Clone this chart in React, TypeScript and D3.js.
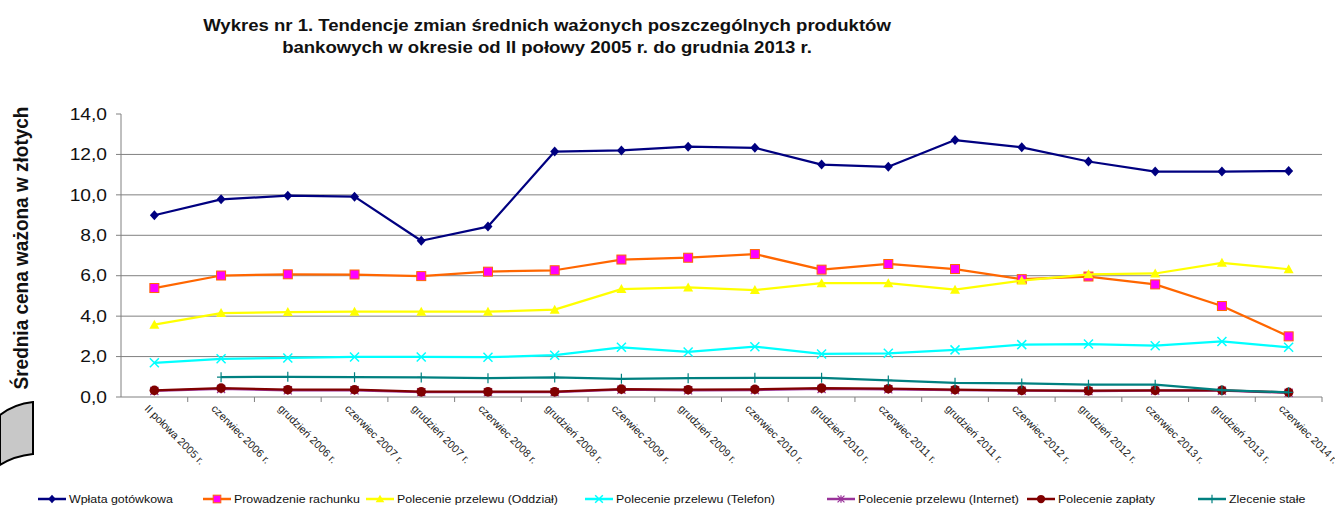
import React from "react";
import * as d3 from "d3";

const categories = [
  "II połowa 2005 r.", "czerwiec 2006 r.", "grudzień 2006 r.", "czerwiec 2007 r.",
  "grudzień 2007 r.", "czerwiec 2008 r.", "grudzień 2008 r.", "czerwiec 2009 r.",
  "grudzień 2009 r.", "czerwiec 2010 r.", "grudzień 2010 r.", "czerwiec 2011 r.",
  "grudzień 2011 r.", "czerwiec 2012 r.", "grudzień 2012 r.", "czerwiec 2013 r.",
  "grudzień 2013 r.", "czerwiec 2014 r.",
];

const wplata = [8.99, 9.78, 9.96, 9.91, 7.73, 8.43, 12.14, 12.2, 12.38, 12.33, 11.5, 11.39, 12.71, 12.35, 11.65, 11.15, 11.15, 11.18];
const prowadzenie = [5.39, 6.01, 6.07, 6.06, 5.98, 6.2, 6.27, 6.8, 6.89, 7.07, 6.3, 6.58, 6.33, 5.83, 5.96, 5.57, 4.5, 3.0];
const oddzial = [3.58, 4.15, 4.2, 4.22, 4.22, 4.22, 4.32, 5.34, 5.42, 5.29, 5.63, 5.63, 5.31, 5.76, 6.07, 6.11, 6.64, 6.32];
const telefon = [1.69, 1.89, 1.93, 1.98, 1.98, 1.97, 2.07, 2.46, 2.23, 2.49, 2.13, 2.16, 2.33, 2.59, 2.62, 2.54, 2.75, 2.46];
const internet = [0.3, 0.4, 0.33, 0.33, 0.24, 0.24, 0.24, 0.36, 0.33, 0.34, 0.4, 0.38, 0.34, 0.31, 0.29, 0.31, 0.31, 0.21];
const zaplaty = [0.33, 0.44, 0.36, 0.36, 0.26, 0.26, 0.26, 0.39, 0.36, 0.38, 0.44, 0.41, 0.36, 0.33, 0.31, 0.33, 0.33, 0.23];
const zlecenie: (number | null)[] = [null, 0.98, 1.0, 0.98, 0.97, 0.93, 0.97, 0.9, 0.93, 0.95, 0.95, 0.82, 0.7, 0.67, 0.61, 0.61, 0.34, 0.23];

const yTicks = [0, 2, 4, 6, 8, 10, 12, 14];
const yTickLabels = ["0,0", "2,0", "4,0", "6,0", "8,0", "10,0", "12,0", "14,0"];

const seriesNames = [
  "Wpłata gotówkowa",
  "Prowadzenie rachunku",
  "Polecenie przelewu (Oddział)",
  "Polecenie przelewu (Telefon)",
  "Polecenie przelewu (Internet)",
  "Polecenie zapłaty",
  "Zlecenie stałe",
];

const titleLines = [
  "Wykres nr 1. Tendencje zmian średnich ważonych poszczególnych produktów",
  "bankowych w okresie od II połowy 2005 r. do grudnia 2013 r.",
];
const yTitle = "Średnia cena ważona w złotych";

type Marker = "diamond" | "square" | "triangle" | "x" | "star" | "circle" | "plus";
const styles: { line: string; fill: string; stroke: string; marker: Marker }[] = [
  { line: "#000080", fill: "#000080", stroke: "#000080", marker: "diamond" },
  { line: "#FF6600", fill: "#FF00FF", stroke: "#FF6600", marker: "square" },
  { line: "#FFFF00", fill: "#FFFF00", stroke: "#FFFF00", marker: "triangle" },
  { line: "#00FFFF", fill: "none", stroke: "#00FFFF", marker: "x" },
  { line: "#993399", fill: "none", stroke: "#993399", marker: "star" },
  { line: "#800000", fill: "#800000", stroke: "#800000", marker: "circle" },
  { line: "#008080", fill: "none", stroke: "#008080", marker: "plus" },
];

const legendX = [38, 203, 366, 585, 827, 1027, 1198];

function MarkerShape({ type, x, y, st, k = 1 }: { type: Marker; x: number; y: number; st: any; k?: number }) {
  const s = 4.5 * k;
  switch (type) {
    case "diamond":
      return <path d={`M${x},${y - s - 0.5}L${x + s},${y}L${x},${y + s + 0.5}L${x - s},${y}Z`} fill={st.fill} />;
    case "square":
      return <rect x={x - s} y={y - s} width={2 * s} height={2 * s} fill={st.fill} stroke={st.stroke} strokeWidth={1} />;
    case "triangle":
      return <path d={`M${x},${y - s - 0.5}L${x + s + 0.5},${y + s - 0.5}L${x - s - 0.5},${y + s - 0.5}Z`} fill={st.fill} />;
    case "x":
      return <path d={`M${x - s},${y - s}L${x + s},${y + s}M${x - s},${y + s}L${x + s},${y - s}`} stroke={st.stroke} strokeWidth={1.5} />;
    case "star":
      return <path d={`M${x - s * 0.9},${y - s * 0.9}L${x + s * 0.9},${y + s * 0.9}M${x - s * 0.9},${y + s * 0.9}L${x + s * 0.9},${y - s * 0.9}M${x},${y - s}L${x},${y + s}`} stroke={st.stroke} strokeWidth={1.2} />;
    case "circle":
      return <circle cx={x} cy={y} r={s + 0.3} fill={st.fill} />;
    case "plus":
      return <path d={`M${x - s * 0.9},${y}L${x + s * 0.9},${y}M${x},${y - s - 0.5}L${x},${y + s + 0.5}`} stroke={st.stroke} strokeWidth={1.2} />;
  }
  return null;
}

function SText({ x, y, sx = 1.18, children, ...rest }: any) {
  return (
    <g transform={`translate(${x},${y}) scale(${sx},1)`}>
      <text x={0} y={0} {...rest}>
        {children}
      </text>
    </g>
  );
}

export default function App() {
  const W = 1335, H = 507;
  const left = 121, right = 1322, top = 114, bottom = 397;
  const x = d3.scaleBand<string>().domain(categories).range([left, right]).padding(0);
  const cx = (i: number) => (x(categories[i]) as number) + x.bandwidth() / 2;
  const y = d3.scaleLinear().domain([0, 14]).range([bottom, top]);

  const allSeries = [wplata, prowadzenie, oddzial, telefon, internet, zaplaty, zlecenie];
  const line = d3
    .line<number | null>()
    .defined((d) => d !== null)
    .x((_, i) => cx(i))
    .y((d) => y(d as number));

  const font = "Liberation Sans, Arial, sans-serif";

  return (
    <svg width={W} height={H} style={{ position: "absolute", left: 0, top: 0, background: "#fff" }} fontFamily={font}>
      <rect x={0} y={0} width={W} height={H} fill="#fff" />
      {/* title */}
      {titleLines.map((t, i) => (
        <SText key={i} x={547} y={31 + i * 22} sx={1.16} textAnchor="middle" fontSize={16} fontWeight="bold" fill="#111">
          {t}
        </SText>
      ))}
      {/* y title */}
      <g transform={`translate(28,248) scale(1.1,1) rotate(-90)`}>
        <text textAnchor="middle" fontSize={19} fontWeight="bold" fill="#111">
          {yTitle}
        </text>
      </g>
      {/* decorative shape */}
      <path d="M0,415 Q14,404 33,402 L33,454 Q14,456 0,465 Z" fill="#c8c8c8" stroke="#000" strokeWidth={2} />
      {/* gridlines */}
      {yTicks.filter((t) => t > 0 && t < 14).map((t) => (
        <line key={t} x1={left} x2={right} y1={y(t)} y2={y(t)} stroke="#808080" strokeWidth={1} />
      ))}
      {/* y axis */}
      <line x1={left} x2={left} y1={top} y2={bottom} stroke="#808080" strokeWidth={1} />
      {yTicks.map((t, i) => (
        <g key={t}>
          <line x1={left - 5} x2={left} y1={y(t)} y2={y(t)} stroke="#808080" />
          <SText x={left - 14} y={y(t)} sx={1.2} dy="0.36em" textAnchor="end" fontSize={16} fill="#111">
            {yTickLabels[i]}
          </SText>
        </g>
      ))}
      {/* x axis */}
      <line x1={left} x2={right} y1={bottom} y2={bottom} stroke="#808080" strokeWidth={1} />
      {categories.map((c, i) => (
        <line key={"t" + i} x1={(x(c) as number) + x.bandwidth()} x2={(x(c) as number) + x.bandwidth()} y1={bottom} y2={bottom + 5} stroke="#808080" />
      ))}
      {categories.map((c, i) => (
        <text
          key={"l" + i}
          transform={`translate(${cx(i) - 8},${bottom + 10}) rotate(45)`}
          fontSize={10.8}
          fill="#222"
          dy="0.3em"
        >
          {c}
        </text>
      ))}
      {/* series */}
      {allSeries.map((s, si) => (
        <g key={si}>
          <path d={line(s) || ""} fill="none" stroke={styles[si].line} strokeWidth={2.25} strokeLinejoin="round" />
          {s.map((v, i) =>
            v === null ? null : <MarkerShape key={i} type={styles[si].marker} x={cx(i)} y={y(v)} st={styles[si]} />
          )}
        </g>
      ))}
      {/* legend */}
      {seriesNames.map((n, i) => (
        <g key={n}>
          <line x1={legendX[i]} x2={legendX[i] + 28} y1={499} y2={499} stroke={styles[i].line} strokeWidth={2.5} />
          <MarkerShape type={styles[i].marker} x={legendX[i] + 14} y={499} st={styles[i]} k={0.85} />
          <SText x={legendX[i] + 31} y={499} sx={1.18} dy="0.35em" fontSize={10.5} fill="#111">
            {n}
          </SText>
        </g>
      ))}
    </svg>
  );
}
